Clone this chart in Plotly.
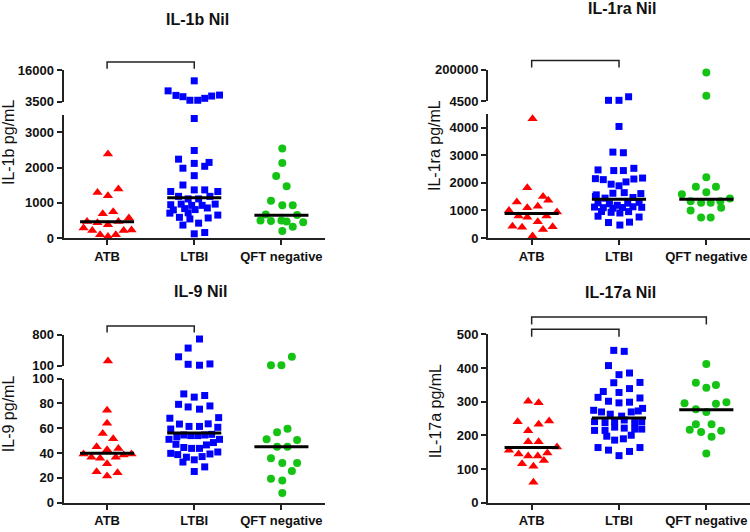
import plotly.graph_objects as go

W, H = 750, 532

groups = ["ATB", "LTBI", "QFT negative"]
colors = ["#FF0000", "#0000FF", "#14C314"]
symbols = ["triangle-up", "square", "circle"]
sizes = [9, 7, 8]

# ---- IL-1b Nil (pg/mL); *_x = horizontal scatter offset inside the group ----
il1b_atb = [2385, 1294, 1202, 1394, 688, 743, 569, 468, 431, 376, 468, 284, 211, 211, 229, 92, 46, 92]
il1b_atb_x = [0.01, -0.11, 0.01, 0.13, -0.05, 0.07, 0.25, -0.23, -0.11, 0.01, 0.13, -0.27, -0.17, 0.19, 0.28, -0.08, 0.01, 0.10]
il1b_ltbi = [11833, 7797, 5974, 5453, 4021, 4021, 4802, 5714, 6104,
             3394, 2486, 2239, 2119, 2147, 1982, 2037, 1771, 1505, 1321, 1367, 1367, 1321,
             1183, 1183, 1110, 1110, 945, 963, 963, 927, 927, 798, 835, 807, 853, 706, 716,
             587, 541, 569, 651, 367, 422, 119, 156]
il1b_ltbi_x = [0.0, -0.30, -0.21, -0.13, -0.05, 0.04, 0.12, 0.20, 0.29,
               0.0, 0.0, -0.18, 0.0, 0.17, -0.13, 0.12, 0.0, -0.13, -0.27, 0.0, 0.12, 0.27,
               -0.18, 0.18, -0.07, 0.05, -0.27, 0.24, -0.15, -0.03, 0.09, -0.24, -0.11, 0.01, 0.15, -0.28, -0.07,
               -0.17, -0.05, 0.16, 0.27, -0.13, 0.05, 0.0, 0.12]
il1b_qft = [2541, 2128, 1761, 1468, 1055, 927, 927, 670, 651, 495, 486, 495, 468, 450, 202, 321]
il1b_qft_x = [0.01, 0.01, -0.06, 0.06, -0.12, 0.01, 0.13, -0.18, 0.18, -0.24, -0.12, 0.0, 0.06, 0.25, 0.01, 0.13]
il1b_med = [460, 1140, 645]

# ---- IL-1ra Nil ----
il1ra_atb = [4319, 1819, 1502, 1303, 1362, 1092, 1150, 998, 939, 798, 751, 798, 587, 423, 387, 411, 305, 70]
il1ra_atb_x = [0.01, -0.05, 0.13, -0.17, 0.19, -0.05, 0.07, -0.26, 0.29, -0.15, -0.05, 0.17, 0.07, -0.22, -0.11, 0.24, 0.13, 0.01]
il1ra_ltbi = [8573, 8573, 30974,
              4038, 3110, 3087, 2465, 2441, 2441, 2523, 2148, 2113, 2171, 2136, 1948, 1890, 2030,
              1561, 1620, 1643, 1608,
              1502, 1444, 1467, 1275, 1240, 1262, 1290, 1120, 1098, 1080, 1105, 1130, 1112,
              960, 930, 905, 955, 790, 760, 560, 575, 469, 1185]
il1ra_ltbi_x = [-0.12, 0.0, 0.11,
                0.0, -0.07, 0.05, -0.24, -0.06, 0.05, 0.17, -0.27, -0.18, 0.27, 0.17, -0.09, 0.0, 0.08,
                -0.26, -0.07, 0.06, 0.25,
                -0.27, -0.16, 0.16, -0.24, -0.11, 0.10, 0.23, -0.28, -0.18, -0.07, 0.04, 0.16, 0.26,
                -0.20, -0.09, 0.01, 0.11, -0.24, 0.23, -0.12, 0.12, 0.01, -0.02]
il1ra_qft = [183700, 37083, 2195, 1854, 1854, 1655, 1585, 1432, 1326, 1279, 1279, 1326, 998, 1092, 739, 739]
il1ra_qft_x = [0.0, 0.0, 0.0, -0.12, 0.11, 0.0, -0.28, 0.27, -0.18, -0.06, 0.05, 0.16, -0.18, 0.17, -0.06, 0.05]
il1ra_med = [890, 1400, 1400]

# ---- IL-9 Nil ----
il9_atb = [209, 74.5, 64, 55.7, 51.5, 45, 43.7, 42.6, 39.2, 36.6, 35.8, 36.6, 38.4, 39.2, 31.4, 24.8, 21.4, 24]
il9_atb_x = [0.01, 0.0, 0.0, -0.05, 0.07, -0.12, 0.13, 0.0, -0.27, -0.18, -0.08, 0.10, 0.19, 0.28, 0.0, -0.12, 0.0, 0.12]
il9_ltbi = [705, 501, 304, 136, 115, 144,
            87.6, 85, 86.3, 79.2, 77.1, 75.3, 77.9, 68, 68.5, 63.3, 61.4, 61.4, 63.5, 59.3, 60.7,
            51, 53, 54.5, 54, 54, 54.5, 55, 51,
            47, 44.4, 43.7, 43.7, 46.5, 48.4,
            39.7, 38.7, 36.6, 34.5, 37.1, 39.2, 40.8,
            32.7, 25.1, 28.8]
il9_ltbi_x = [0.06, -0.07, -0.18, -0.07, 0.06, 0.18,
              -0.12, 0.0, 0.12, -0.18, -0.07, 0.06, 0.18, -0.28, 0.28, -0.17, -0.06, 0.06, 0.16, -0.27, 0.27,
              -0.29, -0.20, -0.12, -0.04, 0.04, 0.12, 0.20, 0.29,
              -0.21, -0.12, -0.03, 0.06, 0.14, 0.22,
              -0.27, -0.19, -0.09, 0.0, 0.09, 0.18, 0.27,
              -0.13, 0.0, 0.12]
il9_qft = [115, 115, 304, 59.6, 56.7, 51, 50.5, 45, 45, 35.8, 31.9, 31.9, 25.4, 19.3, 17.8, 7.8]
il9_qft_x = [-0.12, 0.0, 0.12, 0.07, -0.05, -0.17, 0.18, -0.05, 0.07, -0.12, 0.01, 0.18, 0.12, -0.12, 0.01, 0.01]
il9_med = [39.7, 56, 45]

# ---- IL-17a Nil ----
il17a_atb = [301.5, 296.7, 240.8, 242.8, 233.1, 213.9, 181.1, 181.1, 156.1, 165.7, 144.5, 138.7, 138.7, 147.4, 115.6, 125.2, 107.9, 60.7]
il17a_atb_x = [-0.04, 0.08, -0.16, 0.20, 0.08, -0.04, -0.04, 0.08, -0.26, 0.29, -0.15, -0.04, 0.07, 0.18, -0.11, 0.14, 0.02, 0.02]
il17a_ltbi = [452.8, 449.9, 407.5, 380.5, 385.4, 356.5, 357.4, 330.4, 327.6, 339.1, 313.1, 311.2, 301.5, 296.7, 298.7,
              274.6, 280.3, 269.7, 263, 269.7, 272.6, 257.2,
              240.8, 238, 240.8, 245.7, 238, 240.8,
              214.8, 214.8, 221.6, 218.7, 218.7, 224.5,
              197.5, 185.9, 189.8, 200.4,
              163.8, 156.1, 139.7, 152.2, 163.8]
il17a_ltbi_x = [-0.06, 0.06, -0.12, 0.0, 0.12, -0.06, 0.24, -0.18, 0.0, 0.12, -0.24, 0.24, -0.12, 0.0, 0.12,
                -0.29, 0.27, -0.20, -0.10, 0.14, 0.22, 0.03,
                -0.28, -0.16, -0.05, 0.06, 0.18, 0.26,
                -0.28, -0.16, 0.06, 0.18, 0.26, -0.05,
                -0.14, -0.05, 0.05, 0.14,
                -0.24, -0.12, 0.0, 0.12, 0.24]
il17a_qft = [412.3, 356.5, 342, 349.7, 295.8, 298.7, 277.5, 269.7, 293.8, 216.8, 233.1, 210, 233.1, 195.6, 213.9, 146.4]
il17a_qft_x = [0.0, -0.12, 0.0, 0.11, -0.25, 0.23, -0.12, 0.0, 0.11, -0.19, -0.12, -0.06, 0.06, 0.06, 0.17, 0.0]
il17a_med = [164, 252, 276]

# y ticks per axis segment
il1b_ticks_lo, il1b_ticks_hi = [0, 1000, 2000, 3000], [3500, 16000]
il1ra_ticks_lo, il1ra_ticks_hi = [0, 1000, 2000, 3000, 4000], [4500, 200000]
il9_ticks_lo, il9_ticks_hi = [0, 20, 40, 60, 80, 100], [100, 800]
il17a_ticks = [0, 100, 200, 300, 400, 500]

panels = [
    dict(title="IL-1b Nil", ytitle="IL-1b pg/mL", xa="x", ylo="y", yhi="y2",
         data=[(il1b_atb, il1b_atb_x), (il1b_ltbi, il1b_ltbi_x), (il1b_qft, il1b_qft_x)],
         med=il1b_med, brk=3500),
    dict(title="IL-1ra Nil", ytitle="IL-1ra pg/mL", xa="x2", ylo="y3", yhi="y4",
         data=[(il1ra_atb, il1ra_atb_x), (il1ra_ltbi, il1ra_ltbi_x), (il1ra_qft, il1ra_qft_x)],
         med=il1ra_med, brk=4500),
    dict(title="IL-9 Nil", ytitle="IL-9 pg/mL", xa="x3", ylo="y5", yhi="y6",
         data=[(il9_atb, il9_atb_x), (il9_ltbi, il9_ltbi_x), (il9_qft, il9_qft_x)],
         med=il9_med, brk=100),
    dict(title="IL-17a Nil", ytitle="IL-17a pg/mL", xa="x4", ylo="y7", yhi=None,
         data=[(il17a_atb, il17a_atb_x), (il17a_ltbi, il17a_ltbi_x), (il17a_qft, il17a_qft_x)],
         med=il17a_med, brk=None),
]

fig = go.Figure()

for p in panels:
    for g, (vals, offs) in enumerate(p["data"]):
        lo = [(g + o, v) for v, o in zip(vals, offs) if p["brk"] is None or v <= p["brk"]]
        hi = [(g + o, v) for v, o in zip(vals, offs) if p["brk"] is not None and v > p["brk"]]
        for pts, ya in ((lo, p["ylo"]), (hi, p["yhi"])):
            if not pts:
                continue
            fig.add_trace(go.Scatter(
                x=[a for a, _ in pts], y=[b for _, b in pts], mode="markers",
                xaxis=p["xa"], yaxis=ya, cliponaxis=False, showlegend=False,
                marker=dict(symbol=symbols[g], size=sizes[g], color=colors[g], line=dict(width=0))))
    for g, m in enumerate(p["med"]):
        fig.add_trace(go.Scatter(
            x=[g - 0.31, g + 0.31], y=[m, m], mode="lines", xaxis=p["xa"], yaxis=p["ylo"],
            cliponaxis=False, showlegend=False, line=dict(color="black", width=3)))

FONT = "Liberation Sans, Arial"
base = dict(showline=True, linewidth=2, linecolor="#222", ticks="outside", ticklen=5, tickwidth=2,
            tickcolor="#222", showgrid=False, zeroline=False, fixedrange=True,
            tickfont=dict(family=FONT, size=13, color="#111"))


def bold(vals):
    return [f"<b>{v}</b>" for v in vals]


def yax(top, bottom, anchor, rng, ticks):
    return dict(base, domain=[1 - bottom / H, 1 - top / H], anchor=anchor, range=rng,
                tickvals=ticks, ticktext=bold(ticks))


def xax(left, right, anchor):
    return dict(base, domain=[left / W, right / W], anchor=anchor, range=[-0.5, 2.5],
                tickvals=[0, 1, 2], ticktext=bold(groups))


fig.update_layout(
    xaxis=xax(63.5, 325, "y"),
    xaxis2=xax(488, 750, "y3"),
    xaxis3=xax(63.5, 325, "y5"),
    xaxis4=xax(488, 750, "y7"),
    yaxis=yax(110.9, 237.7, "x", [0, 3500], il1b_ticks_lo),
    yaxis2=yax(65.3, 97.3, "x", [3500, 16000], il1b_ticks_hi),
    yaxis3=yax(109.8, 237.7, "x2", [0, 4500], il1ra_ticks_lo),
    yaxis4=yax(64.7, 96.7, "x2", [4500, 200000], il1ra_ticks_hi),
    yaxis5=yax(382.3, 510, "x3", [0, 100], il9_ticks_lo),
    yaxis6=yax(337.3, 369.3, "x3", [100, 800], il9_ticks_hi),
    yaxis7=yax(337, 510, "x4", [0, 500], il17a_ticks),
)

# titles and y-axis labels
title_pos = [(197, 13), (622, 2), (200, 293), (620, 294)]
ytitle_pos = [(8, 140), (435, 142), (8, 419), (435, 416)]
for p, (tx, ty), (yx, yy) in zip(panels, title_pos, ytitle_pos):
    fig.add_annotation(text=f"<b>{p['title']}</b>", x=tx / W, y=1 - ty / H, xref="paper", yref="paper",
                       showarrow=False, xanchor="center", yanchor="middle",
                       font=dict(family=FONT, size=16, color="#111"))
    fig.add_annotation(text=p["ytitle"], x=yx / W, y=1 - yy / H, xref="paper", yref="paper",
                       showarrow=False, textangle=-90, xanchor="center", yanchor="middle",
                       font=dict(family=FONT, size=16, color="#111"))

# significance brackets: (x axis, from group, to group, bar y px, leg end y px)
brackets = [("x", 0, 1, 56.7, 63.5), ("x2", 0, 1, 55, 62.3), ("x3", 0, 1, 328.3, 335),
            ("x4", 0, 2, 319, 326.7), ("x4", 0, 1, 331.7, 339.3)]
for xa, g0, g1, ytop, yleg in brackets:
    yt, yl = 1 - ytop / H, 1 - yleg / H
    fig.add_shape(type="path", xref=xa, yref="paper",
                  path=f"M {g0},{yl} L {g0},{yt} L {g1},{yt} L {g1},{yl}",
                  line=dict(color="#222", width=1.5))

fig.update_layout(width=W, height=H, autosize=False, margin=dict(l=0, r=0, t=0, b=0),
                  paper_bgcolor="white", plot_bgcolor="white")

fig.write_html("out.html", config={"displayModeBar": False},
               post_script="document.body.style.margin='0';")
